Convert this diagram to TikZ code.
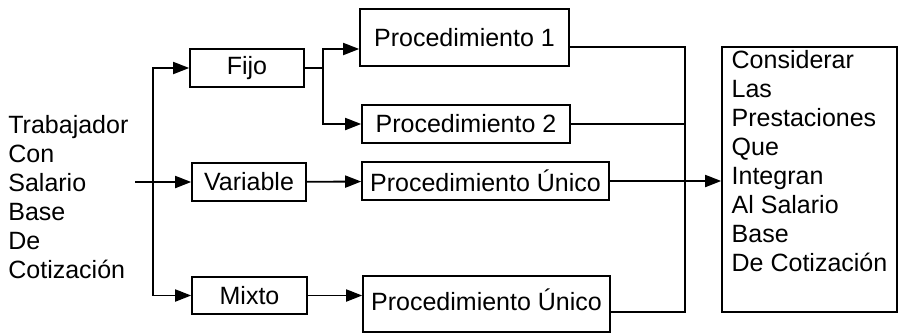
\documentclass[tikz,border=0pt]{standalone}
\usepackage{fontspec}
\setmainfont{Liberation Sans}
\usetikzlibrary{arrows.meta,positioning,calc}

\tikzset{
  caja/.style={draw,line width=0.8pt,rectangle,inner sep=0pt,
    font=\fontsize{12.5}{14.5}\selectfont},
  flecha/.style={line width=0.9pt,-{Triangle[length=8pt,width=6pt]}},
  linea/.style={line width=0.9pt}
}

\begin{document}
\begin{tikzpicture}[x=0.5pt,y=-0.5pt]
      \useasboundingbox (0,0) rectangle (898,333);
      % entrada
      \node[anchor=west,inner sep=0pt,align=left,
        font=\fontsize{12.5}{14.5}\selectfont] (trab) at (8,197)
        {Trabajador\\Con\\Salario\\Base\\De\\Cotización};
      % tipos de salario
      \node[caja,minimum width=57pt,minimum height=19pt] (fijo) at (247,68) {Fijo};
      \node[caja,minimum width=57pt,minimum height=19pt] (var) at (249,182) {Variable};
      \node[caja,minimum width=57.5pt,minimum height=18.5pt] (mix) at (249.5,295.5) {Mixto};
      % procedimientos
      \node[caja,minimum width=104.5pt,minimum height=28.5pt] (p1) at (464.5,37.5) {Procedimiento 1};
      \node[caja,minimum width=104pt,minimum height=19pt] (p2) at (466,124) {Procedimiento 2};
      \node[caja,minimum width=123.5pt,minimum height=19pt] (pu1) at (485.5,181) {Procedimiento Único};
      \node[caja,minimum width=123.5pt,minimum height=28pt] (pu2) at (486.5,304) {\raisebox{4.5pt}{Procedimiento Único}};
      % resultado
      \node[caja,minimum width=87.5pt,minimum height=132.5pt,align=left] (cons) at (809.5,179.5)
        {Considerar\\Las\\Prestaciones\\Que\\Integran\\Al Salario\\Base\\De Cotización\\\strut};

      \coordinate (ent) at (135,182);
      \coordinate (rama) at (153,182);
      \coordinate (rama2) at (323,68);
      \coordinate (bus) at (685,0);

      \draw[linea] (ent) -- (rama);
      \draw[flecha] (rama) -- (var);
      \draw[flecha] (rama) |- (fijo);
      \draw[flecha] (rama) |- (mix);
      \draw[linea] (fijo) -- (rama2);
      \draw[flecha] (rama2) |- ($(p1.west)+(0,11.5)$);
      \draw[flecha] (rama2) |- (p2);
      \draw[flecha] (var) -- (pu1);
      \draw[flecha] (mix) -- (mix -| pu2.west);

      \draw[linea] ($(p1.east)+(0,9.5)$) -| ($(bus)+(0,312)$) -- ($(pu2.east)+(0,8)$);
      \draw[linea] (p2) -- (p2 -| bus);
      \draw[flecha] (pu1) -- (pu1 -| cons.west);
    \end{tikzpicture}
\end{document}
